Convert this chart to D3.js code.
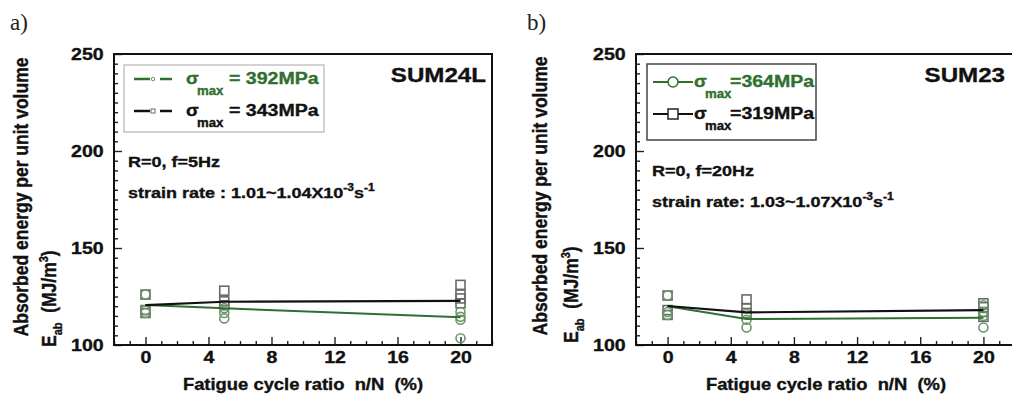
<!DOCTYPE html>
<html><head><meta charset="utf-8">
<script src="https://cdn.jsdelivr.net/npm/d3@7"></script>
<style>body{margin:0;background:#fff}svg{display:block}</style>
</head><body>
<svg id="c" width="1012" height="396"></svg>
<script>
// ---------- data ----------
const cycleRatio = [0, 5, 20];
const xMajorTicks = [0, 4, 8, 12, 16, 20];
const yMajorTicks = [100, 150, 200, 250];
// panel a) SUM24L
const aMeanHigh = [120.6, 118.9, 114.3];   // sigma_max = 392 MPa (green)
const aMeanLow  = [120.6, 122.3, 122.7];   // sigma_max = 343 MPa (black)
const aPtsHighX = [0, 0, 0, 5, 5, 5, 20, 20, 20, 20];
const aPtsHighY = [126, 118, 116.5, 119, 116.5, 113.7, 117, 114.5, 113, 103.5];
const aPtsLowX  = [0, 0, 0, 5, 5, 5, 20, 20, 20, 20];
const aPtsLowY  = [126, 118, 116.5, 128, 122.5, 120.5, 131, 126, 124, 121.5];
// panel b) SUM23
const bMeanHigh = [120.0, 113.4, 114.0];   // sigma_max = 364 MPa (green)
const bMeanLow  = [120.1, 116.8, 118.0];   // sigma_max = 319 MPa (black)
const bPtsHighX = [0, 0, 0, 5, 5, 5, 20, 20, 20, 20];
const bPtsHighY = [125.5, 117, 115.5, 116, 113, 109, 120.5, 117, 115, 109];
const bPtsLowX  = [0, 0, 0, 5, 5, 5, 20, 20, 20, 20];
const bPtsLowY  = [125.5, 118, 115.5, 123.5, 119, 116.5, 121.5, 119.5, 117, 114.5];

const GREEN = '#2f6f2f', PTGREEN = '#6a966a', PTGRAY = '#6a6a6a';
const SX = 1.15;
const FF = 'Liberation Sans, Arial, sans-serif';
const svg = d3.select('#c');

function T(g, x, y, size, opts = {}) {
  const col = opts.fill || '#111';
  return g.append('text')
    .attr('transform', `translate(${x},${y}) scale(${opts.sx || SX},1)`)
    .attr('font-size', size).attr('font-weight', opts.w || 'bold')
    .attr('font-family', opts.ff || FF).attr('fill', col)
    .attr('stroke', col).attr('stroke-width', 0.35)
    .attr('text-anchor', opts.anchor || 'start');
}

function panel(cfg) {
  const g = svg.append('g');
  const x = d3.scaleLinear().domain([-2, 22]).range([cfg.left, cfg.right]);
  const y = d3.scaleLinear().domain([100, 250]).range([345, 54]);

  // panel letter
  g.append('text').attr('x', cfg.letterX).attr('y', 30).attr('font-size', 23)
    .attr('font-family', 'Liberation Serif, DejaVu Serif, serif').attr('fill', '#222').text(cfg.letter);

  // minor ticks
  const xMinor = d3.range(-2, 23, 1).filter(v => !xMajorTicks.includes(v));
  const yMinor = d3.range(100, 251, 5).filter(v => !yMajorTicks.includes(v));
  const bx = g.append('g').attr('transform', 'translate(0,345)');
  bx.call(d3.axisBottom(x).tickValues(xMinor).tickSizeInner(-4).tickSizeOuter(0).tickFormat(''));
  const bx2 = g.append('g').attr('transform', 'translate(0,345)');
  bx2.call(d3.axisBottom(x).tickValues(xMajorTicks).tickSizeInner(-8).tickSizeOuter(0).tickPadding(6).tickFormat(d3.format('d')));
  const ly = g.append('g').attr('transform', `translate(${cfg.left},0)`);
  ly.call(d3.axisLeft(y).tickValues(yMinor).tickSizeInner(-4).tickSizeOuter(0).tickFormat(''));
  const ly2 = g.append('g').attr('transform', `translate(${cfg.left},0)`);
  ly2.call(d3.axisLeft(y).tickValues(yMajorTicks).tickSizeInner(-8).tickSizeOuter(0).tickPadding(9).tickFormat(d3.format('d')));
  [bx, bx2, ly, ly2].forEach(a => {
    a.select('.domain').remove();
    a.selectAll('line').attr('stroke', '#222').attr('stroke-width', 1.4);
    a.selectAll('text').attr('font-size', 17).attr('font-weight', 'bold')
      .attr('font-family', FF).attr('fill', '#111').attr('stroke', '#111').attr('stroke-width', 0.35)
      .attr('transform', `scale(${SX},1)`);
  });

  // frame
  g.append('rect').attr('x', cfg.left).attr('y', 54)
    .attr('width', cfg.right - cfg.left).attr('height', 291)
    .attr('fill', 'none').attr('stroke', '#111').attr('stroke-width', 2);

  // scatter points
  const sq = 9;
  g.append('g').selectAll('rect').data(cfg.lowX.map((v, i) => [v, cfg.lowY[i]])).join('rect')
    .attr('x', d => x(d[0]) - sq / 2).attr('y', d => y(d[1]) - sq / 2)
    .attr('width', sq).attr('height', sq).attr('fill', 'none')
    .attr('stroke', PTGRAY).attr('stroke-width', 1.6);
  g.append('g').selectAll('circle').data(cfg.highX.map((v, i) => [v, cfg.highY[i]])).join('circle')
    .attr('cx', d => x(d[0])).attr('cy', d => y(d[1])).attr('r', 4.5).attr('fill', 'none')
    .attr('stroke', PTGREEN).attr('stroke-width', 1.6);

  // mean lines
  const line = d3.line().x((d, i) => x(cycleRatio[i])).y(d => y(d));
  g.append('path').attr('d', line(cfg.meanHigh)).attr('fill', 'none').attr('stroke', GREEN).attr('stroke-width', 2);
  g.append('path').attr('d', line(cfg.meanLow)).attr('fill', 'none').attr('stroke', '#111').attr('stroke-width', 2.2);

  // legend
  const L = cfg.legend;
  g.append('rect').attr('x', L.x0).attr('y', L.y0).attr('width', L.x1 - L.x0).attr('height', L.y1 - L.y0)
    .attr('fill', 'none').attr('stroke', L.border).attr('stroke-width', 1.5);
  L.rows.forEach((r, i) => {
    const cy = L.rowY[i];
    const col = i === 0 ? GREEN : '#111';
    if (L.style === 'a') {
      g.append('line').attr('x1', L.sx0).attr('x2', L.sx0 + 16).attr('y1', cy).attr('y2', cy).attr('stroke', col).attr('stroke-width', 2.5);
      g.append('line').attr('x1', L.sx0 + 26).attr('x2', L.sx0 + 38).attr('y1', cy).attr('y2', cy).attr('stroke', col).attr('stroke-width', 2.5);
      if (i === 0) g.append('circle').attr('cx', L.sx0 + 19).attr('cy', cy).attr('r', 1.8).attr('fill', '#fff').attr('stroke', PTGREEN).attr('stroke-width', 1);
      else g.append('rect').attr('x', L.sx0 + 17).attr('y', cy - 2).attr('width', 4).attr('height', 4).attr('fill', '#fff').attr('stroke', PTGRAY).attr('stroke-width', 1);
    } else {
      g.append('line').attr('x1', L.sx0).attr('x2', L.sx0 + 40).attr('y1', cy).attr('y2', cy).attr('stroke', col).attr('stroke-width', 2);
      if (i === 0) g.append('circle').attr('cx', L.sx0 + 20).attr('cy', cy).attr('r', 5).attr('fill', '#fff').attr('stroke', GREEN).attr('stroke-width', 1.5);
      else g.append('rect').attr('x', L.sx0 + 15).attr('y', cy - 5).attr('width', 10).attr('height', 10).attr('fill', '#fff').attr('stroke', '#222').attr('stroke-width', 1.5);
    }
    T(g, L.sigX, cy + L.sigDy, 17, { fill: col, sx: 1.1 }).text('σ');
    T(g, L.maxX, cy + L.sigDy + 11, 12, { fill: col, sx: 1.1 }).text('max');
    T(g, L.valX, cy + L.sigDy, 17, { fill: col }).text(r);
  });

  // steel grade
  T(g, cfg.gradeX, 82, 21, { anchor: 'end' }).text(cfg.grade);

  // conditions
  T(g, cfg.annX, cfg.annY1, 15, { sx: 1.2 }).text(cfg.ann1);
  const s = T(g, cfg.annX, cfg.annY2, 15, { sx: 1.2 });
  s.append('tspan').text(cfg.ann2);
  s.append('tspan').attr('font-size', 10).attr('dy', -7).text('-3');
  s.append('tspan').attr('dy', 7).text('s');
  s.append('tspan').attr('font-size', 10).attr('dy', -7).text('-1');

  // axis titles
  T(g, cfg.xTitleX, 390, 16, { anchor: 'middle' }).text('Fatigue cycle ratio\u00a0 n/N\u00a0 (%)');
  g.append('text').attr('transform', `translate(${cfg.yT1x},${cfg.yT1y}) rotate(-90) scale(1,1.15)`)
    .attr('font-size', 17.5).attr('font-weight', 'bold').attr('font-family', FF).attr('fill', '#111')
    .attr('stroke', '#111').attr('stroke-width', 0.35)
    .attr('text-anchor', 'middle').text('Absorbed energy per unit volume');
  const t2 = g.append('text').attr('transform', `translate(${cfg.yT2x},${cfg.yT2y}) rotate(-90) scale(1,1.15)`)
    .attr('font-size', 17.5).attr('font-weight', 'bold').attr('font-family', FF).attr('fill', '#111')
    .attr('stroke', '#111').attr('stroke-width', 0.35)
    .attr('text-anchor', 'start');
  t2.append('tspan').text('E');
  t2.append('tspan').attr('font-size', 11).attr('dy', 5).text('ab');
  t2.append('tspan').attr('dy', -5).text('\u00a0\u00a0(MJ/m');
  t2.append('tspan').attr('font-size', 11).attr('dy', -7).text('3');
  t2.append('tspan').attr('dy', 7).text(')');
}

panel({
  letter: 'a)', letterX: 10, left: 114, right: 492,
  meanHigh: aMeanHigh, meanLow: aMeanLow,
  highX: aPtsHighX, highY: aPtsHighY, lowX: aPtsLowX, lowY: aPtsLowY,
  legend: { x0: 124, y0: 65, x1: 324, y1: 132, border: '#c4c4c4', style: 'a',
    rows: ['= 392MPa', '= 343MPa'], rowY: [79, 111], sx0: 134, sigX: 186, maxX: 197, valX: 229, sigDy: 5 },
  grade: 'SUM24L', gradeX: 486,
  annX: 128, annY1: 167, annY2: 198, ann1: 'R=0, f=5Hz', ann2: 'strain rate : 1.01~1.04X10',
  xTitleX: 303, yT1x: 28, yT1y: 197, yT2x: 56, yT2y: 347
});
panel({
  letter: 'b)', letterX: 527, left: 636, right: 1015,
  meanHigh: bMeanHigh, meanLow: bMeanLow,
  highX: bPtsHighX, highY: bPtsHighY, lowX: bPtsLowX, lowY: bPtsLowY,
  legend: { x0: 647, y0: 64, x1: 816, y1: 140, border: '#444', style: 'b',
    rows: ['=364MPa', '=319MPa'], rowY: [82, 114], sx0: 653, sigX: 694, maxX: 705, valX: 730, sigDy: 5 },
  grade: 'SUM23', gradeX: 1005,
  annX: 652, annY1: 176, annY2: 207, ann1: 'R=0, f=20Hz', ann2: 'strain rate: 1.03~1.07X10',
  xTitleX: 826, yT1x: 547, yT1y: 196, yT2x: 578, yT2y: 343
});
</script>
</body></html>
